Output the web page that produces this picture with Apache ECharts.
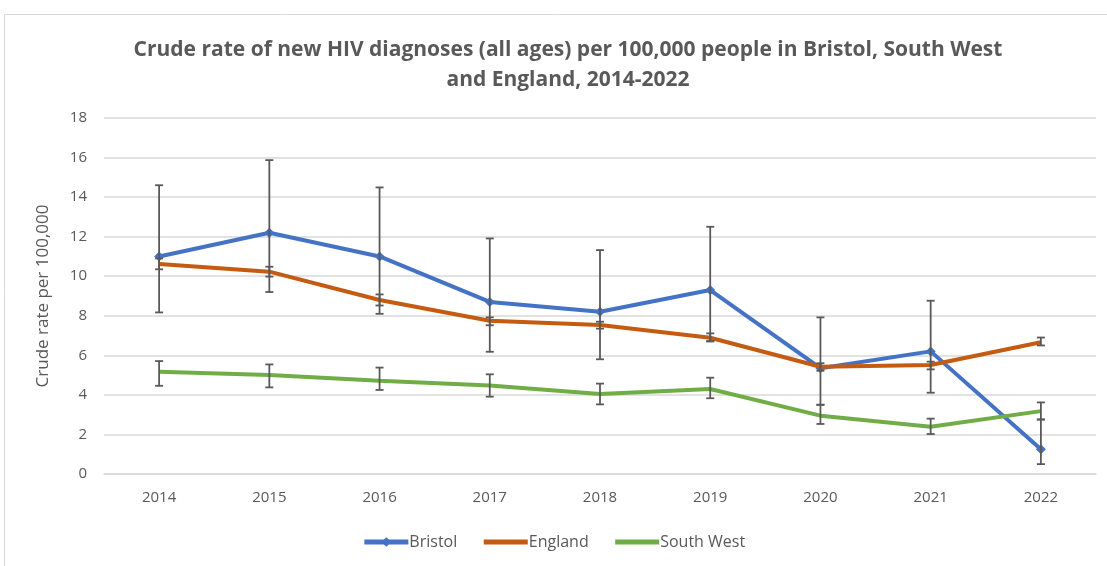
<!DOCTYPE html>
<html>
<head>
<meta charset="utf-8">
<script src="https://cdn.jsdelivr.net/npm/echarts@6/dist/echarts.min.js"></script>
<style>
  html, body { margin: 0; padding: 0; background: #fff; }
  #main { width: 1107px; height: 566px; }
</style>
</head>
<body>
<div id="main"></div>
<script>
var years = ['2014', '2015', '2016', '2017', '2018', '2019', '2020', '2021', '2022'];

var bristol = [11.0, 12.2, 11.0, 8.7, 8.2, 9.3, 5.35, 6.2, 1.25];
var bristolLow = [8.17, 9.2, 8.1, 6.18, 5.8, 6.72, 3.5, 4.11, 0.5];
var bristolHigh = [14.6, 15.87, 14.49, 11.91, 11.32, 12.5, 7.92, 8.76, 2.75];

var england = [10.62, 10.23, 8.8, 7.75, 7.53, 6.89, 5.42, 5.51, 6.66];
var englandLow = [10.35, 9.98, 8.52, 7.52, 7.35, 6.7, 5.22, 5.29, 6.5];
var englandHigh = [10.9, 10.48, 9.08, 7.92, 7.7, 7.11, 5.6, 5.68, 6.9];

var southWest = [5.17, 5.0, 4.72, 4.47, 4.04, 4.3, 2.95, 2.39, 3.18];
var southWestLow = [4.46, 4.38, 4.25, 3.91, 3.52, 3.83, 2.53, 2.02, 2.76];
var southWestHigh = [5.71, 5.54, 5.38, 5.04, 4.57, 4.87, 3.5, 2.8, 3.62];

var textColor = '#595959';

// 误差线数据 [类目索引, 下限, 上限]
function errData(low, high) {
  return low.map(function (v, i) { return [i, v, high[i]]; });
}

function renderError(params, api) {
  var x = api.value(0);
  var lo = api.coord([x, api.value(1)]);
  var hi = api.coord([x, api.value(2)]);
  var half = 4;
  var style = { stroke: '#595959', lineWidth: 1.8 };
  return {
    type: 'group',
    children: [
      { type: 'line', shape: { x1: hi[0], y1: hi[1], x2: lo[0], y2: lo[1] }, style: style },
      { type: 'line', shape: { x1: hi[0] - half, y1: hi[1], x2: hi[0] + half, y2: hi[1] }, style: style },
      { type: 'line', shape: { x1: lo[0] - half, y1: lo[1], x2: lo[0] + half, y2: lo[1] }, style: style }
    ]
  };
}

function errSeries(low, high) {
  return {
    type: 'custom',
    renderItem: renderError,
    data: errData(low, high),
    encode: { x: 0, y: [1, 2] },
    z: 10,
    silent: true
  };
}

var myChart = echarts.init(document.getElementById('main'));

var option = {
  backgroundColor: '#fff',
  animation: false,
  graphic: [{
    type: 'rect',
    shape: { x: 4.5, y: 14.5, width: 1120, height: 560 },
    style: { fill: 'none', stroke: '#d9d9d9', lineWidth: 1 },
    z: -1
  }],
  title: {
    text: 'Crude rate of new HIV diagnoses (all ages) per 100,000 people in Bristol, South West\nand England, 2014-2022',
    left: 563,
    top: 30,
    textAlign: 'center',
    textStyle: {
      color: textColor,
      fontSize: 21,
      fontWeight: 'bold',
      fontFamily: "'Open Sans', sans-serif",
      lineHeight: 30
    }
  },
  legend: {
    bottom: 11,
    left: 'center',
    itemWidth: 44,
    itemHeight: 12,
    itemGap: 24,
    lineStyle: { width: 5 },
    textStyle: { color: textColor, fontSize: 16, fontFamily: "'Open Sans', sans-serif", padding: [0, 0, 0, -4] },
    data: [
      { name: 'Bristol' },
      { name: 'England', itemStyle: { opacity: 0 } },
      { name: 'South West', itemStyle: { opacity: 0 } }
    ]
  },
  grid: { left: 104, right: 11, top: 118, bottom: 92 },
  xAxis: {
    type: 'category',
    data: years,
    axisLine: { lineStyle: { color: '#d9d9d9', width: 1.5 } },
    axisTick: { show: false },
    axisLabel: { color: textColor, fontSize: 15, margin: 16, fontFamily: "'Open Sans', sans-serif" }
  },
  yAxis: {
    type: 'value',
    min: 0,
    max: 18,
    interval: 2,
    name: 'Crude rate per 100,000',
    nameLocation: 'middle',
    nameGap: 52,
    nameTextStyle: { color: textColor, fontSize: 17, fontFamily: "'Open Sans', sans-serif" },
    axisLabel: { color: textColor, fontSize: 15, margin: 17, fontFamily: "'Open Sans', sans-serif" },
    splitLine: { lineStyle: { color: '#d9d9d9', width: 1.5 } }
  },
  series: [
    {
      name: 'Bristol',
      type: 'line',
      data: bristol,
      symbol: 'diamond',
      symbolSize: 10,
      itemStyle: { color: '#4472C4' },
      lineStyle: { width: 4, color: '#4472C4' },
      z: 3
    },
    {
      name: 'England',
      type: 'line',
      data: england,
      symbol: 'none',
      itemStyle: { color: '#C55A11' },
      lineStyle: { width: 4, color: '#C55A11' },
      z: 4
    },
    {
      name: 'South West',
      type: 'line',
      data: southWest,
      symbol: 'none',
      itemStyle: { color: '#70AD47' },
      lineStyle: { width: 4, color: '#70AD47' },
      z: 4
    },
    errSeries(bristolLow, bristolHigh),
    errSeries(englandLow, englandHigh),
    errSeries(southWestLow, southWestHigh)
  ]
};

myChart.setOption(option);
</script>
</body>
</html>
